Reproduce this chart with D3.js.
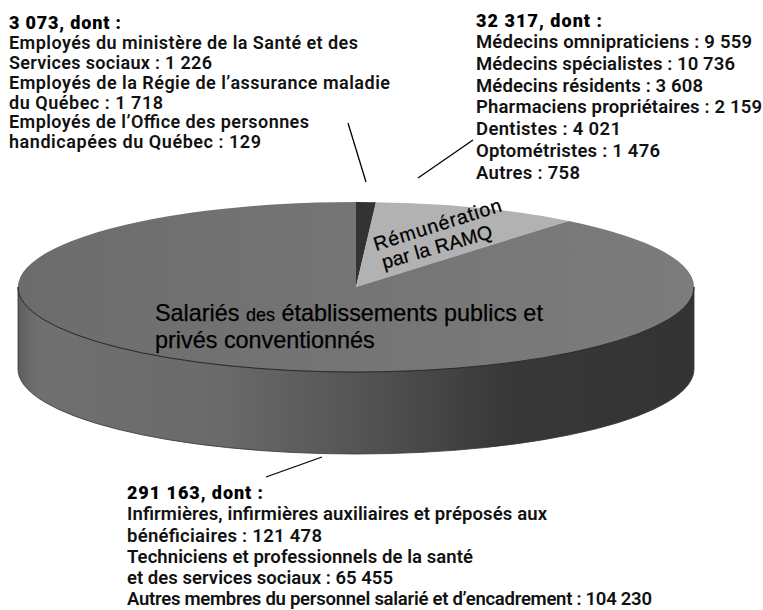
<!DOCTYPE html>
<html>
<head>
<meta charset="utf-8">
<script src="https://cdn.jsdelivr.net/npm/d3@7"></script>
<style>
body { margin: 0; background: #fff; }
svg { display: block; }
.note { font-family: "Roboto", sans-serif; font-size: 18.5px; font-weight: 600; fill: #111; }
.note.head { font-weight: 900; font-size: 18px; fill: #000; }
.note.tight { font-size: 18px; }
.inside { font-family: "Liberation Sans", Arial, sans-serif; fill: #000; stroke: #000; stroke-width: 0.25; }
</style>
</head>
<body>
<script>
/* Répartition du personnel, pie en perspective */
var categories = ["Ministère, RAMQ, OPHQ", "Rémunération par la RAMQ", "Salariés"];
var values = [3073, 32317, 291163];
var colors = ["#333333", "#b2b2b2", "url(#topGrey)"];

var leftNote = ["3 073, dont :", "Employés du ministère de la Santé et des", "Services sociaux : 1 226",
    "Employés de la Régie de l’assurance maladie", "du Québec : 1 718",
    "Employés de l’Office des personnes", "handicapées du Québec : 129"];
var rightNote = ["32 317, dont :", "Médecins omnipraticiens : 9 559", "Médecins spécialistes : 10 736",
    "Médecins résidents : 3 608", "Pharmaciens propriétaires : 2 159", "Dentistes : 4 021",
    "Optométristes : 1 476", "Autres : 758"];
var bottomNote = ["291 163, dont :", "Infirmières, infirmières auxiliaires et préposés aux",
    "bénéficiaires : 121 478", "Techniciens et professionnels de la santé",
    "et des services sociaux : 65 455", "Autres membres du personnel salarié et d’encadrement : 104 230"];

var width = 763, height = 610;
var cx = 356, cy = 287, rx = 338, ry = 85, depth = 82;
var squash = ry / rx;

var svg = d3.select("body").append("svg").attr("width", width).attr("height", height);
var defs = svg.append("defs");

function addGradient(id, stops) {
    var g = defs.append("linearGradient").attr("id", id);
    stops.forEach(function(s) {
        g.append("stop").attr("offset", s[0]).attr("stop-color", s[1]);
    });
}
addGradient("side", [[0, "#5e5e5e"], [0.03, "#707070"], [0.3, "#6a6a6a"], [0.5, "#555555"], [0.72, "#383838"], [1, "#333333"]]);
addGradient("topGrey", [[0, "#6c6c6c"], [0.5, "#757575"], [1, "#7c7c7c"]]);

var pie3d = svg.append("g").attr("transform", "translate(" + cx + "," + cy + ") scale(1," + squash + ")");

// flanc du cylindre
var sidePath = d3.path();
sidePath.arc(0, 0, rx, 0, Math.PI, false);
sidePath.lineTo(-rx, depth / squash);
sidePath.arc(0, depth / squash, rx, Math.PI, 0, true);
sidePath.closePath();
pie3d.append("path").attr("d", sidePath.toString()).attr("fill", "url(#side)")
    .attr("stroke", "#333").attr("stroke-width", 0.8).attr("vector-effect", "non-scaling-stroke");

var slices = d3.pie().sort(null)(values);
var arc = d3.arc().innerRadius(0).outerRadius(rx);
pie3d.selectAll("path.slice").data(slices).enter().append("path")
    .attr("class", "slice")
    .attr("d", arc)
    .attr("fill", function(d, i) { return colors[i]; });

// liséré du dessus
var rimPath = d3.path();
rimPath.arc(0, 0, rx, 0, Math.PI, false);
pie3d.append("path").attr("d", rimPath.toString()).attr("fill", "none")
    .attr("stroke", "#2a2a2a").attr("stroke-width", 1).attr("vector-effect", "non-scaling-stroke");

function drawNote(lines, x, baselines, ends, extraClass) {
    svg.append("g").selectAll("text").data(lines).enter().append("text")
        .attr("class", function(d, i) { return i === 0 ? "note head" : "note " + extraClass; })
        .attr("x", x)
        .attr("y", function(d, i) { return baselines[i]; })
        .attr("textLength", function(d, i) { return ends[i] - x; })
        .attr("lengthAdjust", "spacing")
        .text(function(d) { return d; });
}
drawNote(leftNote, 9, [29, 49, 69, 89, 108.5, 128, 148], [121, 358, 212, 390, 163, 309, 261], "tight");
drawNote(rightNote, 476, [27, 48, 70, 92, 113, 135, 157, 179], [602, 752, 735, 703, 762, 621, 660, 580], "");
drawNote(bottomNote, 127, [499, 520, 542, 563, 584, 605], [263, 547, 322, 473, 393, 652], "");

var leaders = [[[348, 123], [366, 182]], [[473, 140], [418, 178]], [[322, 457], [266, 477]]];
svg.selectAll("line.leader").data(leaders).enter().append("line")
    .attr("class", "leader")
    .attr("x1", function(d) { return d[0][0]; }).attr("y1", function(d) { return d[0][1]; })
    .attr("x2", function(d) { return d[1][0]; }).attr("y2", function(d) { return d[1][1]; })
    .attr("stroke", "#000").attr("stroke-width", 1.3);

svg.append("text").attr("class", "inside").attr("font-size", 19.5)
    .attr("textLength", 133)
    .attr("transform", "translate(376,251) rotate(-17.5)").text("Rémunération");
svg.append("text").attr("class", "inside").attr("font-size", 19.5)
    .attr("textLength", 114)
    .attr("transform", "translate(384,269) rotate(-16)").text("par la RAMQ");

var salaries = svg.append("text").attr("class", "inside").attr("font-size", 23.4).attr("x", 155).attr("y", 321);
salaries.append("tspan").text("Salariés ");
salaries.append("tspan").attr("font-size", 18).text("des");
salaries.append("tspan").text(" établissements publics et");
svg.append("text").attr("class", "inside").attr("font-size", 23.4).attr("x", 155).attr("y", 348).text("privés conventionnés");
</script>
</body>
</html>
